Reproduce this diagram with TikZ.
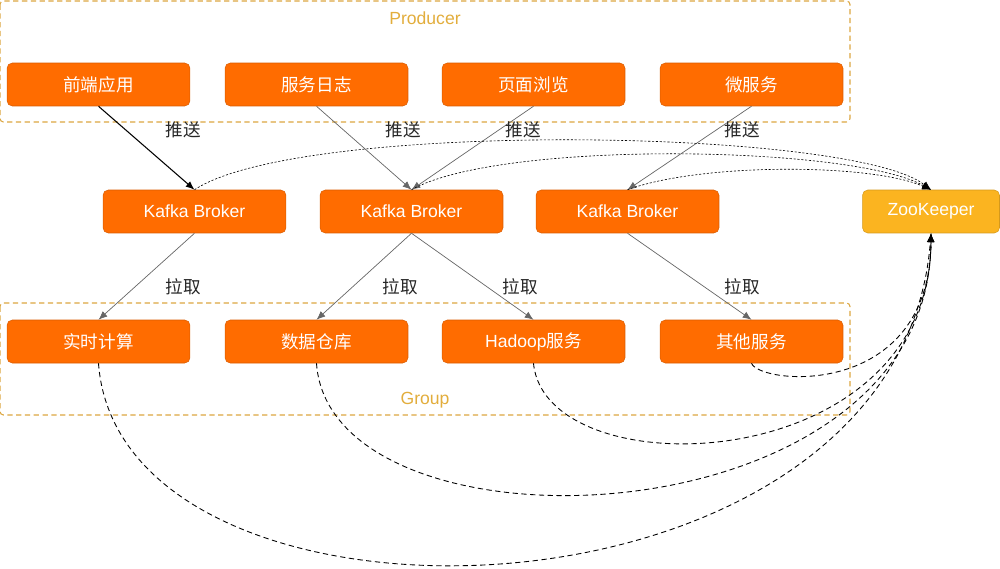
\documentclass[tikz,border=0pt]{standalone}
\usepackage{fontspec}
\setmainfont{Liberation Sans}
\newfontfamily\cjk{Noto Sans CJK SC}
\usepackage{tikz}
\usetikzlibrary{arrows.meta}
\definecolor{boxorange}{HTML}{FF6C00}
\definecolor{zkyellow}{HTML}{FBB420}
\definecolor{groupgold}{HTML}{DBA640}
\definecolor{titlegold}{HTML}{E2AD3C}
\begin{document}
\begin{tikzpicture}[>={Latex[length=5pt,width=4pt]},x=0.02cm,y=-0.02cm,
  box/.style={rounded corners=3pt,fill=boxorange,draw=boxorange!85!black,line width=0.3pt,
    text=white,minimum width=3.66cm,minimum height=0.86cm,inner sep=0pt},
  zkbox/.style={box,fill=zkyellow,draw=zkyellow!85!black,minimum width=2.74cm},
  area/.style={draw=groupgold,dash pattern=on 3pt off 2pt,rounded corners=2pt,line width=0.6pt},
  areatitle/.style={text=titlegold},
  push/.style={->,gray!80!black,line width=0.4pt},
  tag/.style={font=\cjk,text=black!85},
  watch/.style={->,black,dash pattern=on 1.2pt off 1pt,line width=0.35pt},
  lease/.style={->,black,dash pattern=on 3pt off 2pt,line width=0.5pt}]
  \useasboundingbox (0,0) rectangle (1000,568);
  \draw[area] (0,1) rectangle (850,122);
  \node[areatitle] (prodtitle) at (425,18) {Producer};
  \draw[area] (0,303) rectangle (850,415);
  \node[areatitle] (grouptitle) at (425,400) {Group};
  \node[box] (fe) at (98.5,84.5) {\cjk 前端应用};
  \node[box] (log) at (316.5,84.5) {\cjk 服务日志};
  \node[box] (page) at (533.5,84.5) {\cjk 页面浏览};
  \node[box] (micro) at (751.5,84.5) {\cjk 微服务};
  \node[box] (brokerA) at (194.5,211.5) {Kafka Broker};
  \node[box] (brokerB) at (411.5,211.5) {Kafka Broker};
  \node[box] (brokerC) at (627.5,211.5) {Kafka Broker};
  \node[zkbox] (zk) at (931,211.5) {ZooKeeper};
  \node[box] (rt) at (98.5,341.5) {\cjk 实时计算};
  \node[box] (dw) at (316.5,341.5) {\cjk 数据仓库};
  \node[box] (hadoop) at (533.5,341.5) {Hadoop{\cjk 服务}};
  \node[box] (other) at (751.5,341.5) {\cjk 其他服务};
  \draw[push,black,line width=0.6pt] (fe.south) -- (brokerA.north);
  \draw[push] (log.south) -- (brokerB.north);
  \draw[push] (page.south) -- (brokerB.north);
  \draw[push] (micro.south) -- (brokerC.north);
  \node[tag] (pushA) at (183,130) {推送};
  \node[tag] (pushB) at (403,130) {推送};
  \node[tag] (pushC) at (523,130) {推送};
  \node[tag] (pushD) at (742,130) {推送};
  \draw[push] (brokerA.south) -- (rt.north);
  \draw[push] (brokerB.south) -- (dw.north);
  \draw[push] (brokerB.south) -- (hadoop.north);
  \draw[push] (brokerC.south) -- (other.north);
  \node[tag] (pullA) at (183,287) {拉取};
  \node[tag] (pullB) at (400,287) {拉取};
  \node[tag] (pullC) at (520,287) {拉取};
  \node[tag] (pullD) at (742,287) {拉取};
  \draw[watch] (brokerA.north) .. controls (300,120) and (850,128) .. (zk.north);
  \draw[watch] (brokerB.north) .. controls (500,140) and (850,145) .. (zk.north);
  \draw[watch] (brokerC.north) .. controls (700,163) and (870,163) .. (zk.north);
  \draw[lease] (rt.south) .. controls (120,660) and (900,640) .. (zk.south);
  \draw[lease] (dw.south) .. controls (330,565) and (930,545) .. (zk.south);
  \draw[lease] (hadoop.south) .. controls (545,490) and (930,480) .. (zk.south);
  \draw[lease] (other.south) .. controls (760,385) and (930,400) .. (zk.south);
\end{tikzpicture}
\end{document}
